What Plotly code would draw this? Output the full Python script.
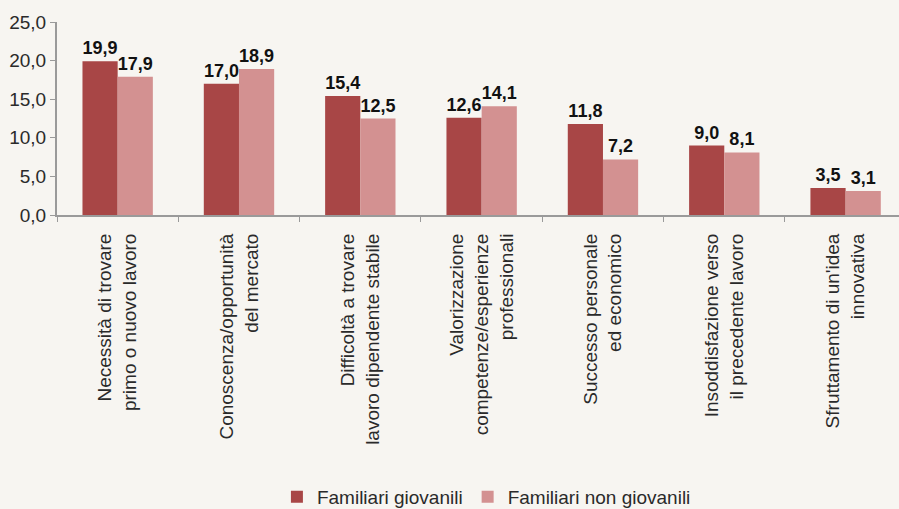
import plotly.graph_objects as go

categories = [
    "Necessità di trovare<br>primo o nuovo lavoro",
    "Conoscenza/opportunità<br>del mercato",
    "Difficoltà a trovare<br>lavoro dipendente stabile",
    "Valorizzazione<br>competenze/esperienze<br>professionali",
    "Successo personale<br>ed economico",
    "Insoddisfazione verso<br>il precedente lavoro",
    "Sfruttamento di un'idea<br>innovativa",
]
giovanili = [19.9, 17.0, 15.4, 12.6, 11.8, 9.0, 3.5]
non_giovanili = [17.9, 18.9, 12.5, 14.1, 7.2, 8.1, 3.1]
y_ticks = [0, 5, 10, 15, 20, 25]

BG = "#f7f5f1"
DARK = "#a84646"
LIGHT = "#d39191"
AXIS = "#9a9a9a"
FONT = "Liberation Sans"
TXT = "#2a2a2a"

fig = go.Figure()
for name, vals, col in [("Familiari giovanili", giovanili, DARK),
                        ("Familiari non giovanili", non_giovanili, LIGHT)]:
    fig.add_trace(go.Bar(
        x=categories, y=vals, name=name,
        marker=dict(color=col, line=dict(width=0)),
        texttemplate="%{y:.1f}", textposition="outside", cliponaxis=False,
        textfont=dict(size=18, color="#111111", family=FONT, weight="bold"),
    ))

fig.update_layout(
    template="none",
    width=899, height=509,
    paper_bgcolor=BG, plot_bgcolor=BG,
    separators=",.",
    barmode="group", bargap=0.42, bargroupgap=0,
    margin=dict(l=57, r=0, t=22, b=294, autoexpand=False),
    font=dict(family=FONT, color=TXT, size=19),
    showlegend=True,
    legend=dict(orientation="h", x=0.51, xanchor="center", y=-1.46, yanchor="middle",
                font=dict(size=19, color=TXT), itemwidth=30, traceorder="normal",
                bgcolor="rgba(0,0,0,0)"),
)
fig.update_xaxes(
    range=[-0.5, 6.44], tickangle=-90, showline=True, linecolor=AXIS, linewidth=2,
    ticks="outside", tickson="boundaries", ticklen=5, tickcolor=AXIS, tickwidth=1,
    tickfont=dict(size=19, color=TXT), showgrid=False, automargin=False,
    ticklabelstandoff=9,
)
fig.update_yaxes(
    range=[0, 25], tickvals=y_ticks, tickformat=".1f", showline=True, linecolor=AXIS,
    linewidth=2, ticks="outside", ticklen=5, tickcolor=AXIS, showgrid=False, zeroline=False,
    tickfont=dict(size=19, color=TXT), automargin=False,
)

fig.write_html(
    "out.html",
    config={"displayModeBar": False},
    post_script="document.body.style.margin='0';document.body.style.background='%s';" % BG,
)
